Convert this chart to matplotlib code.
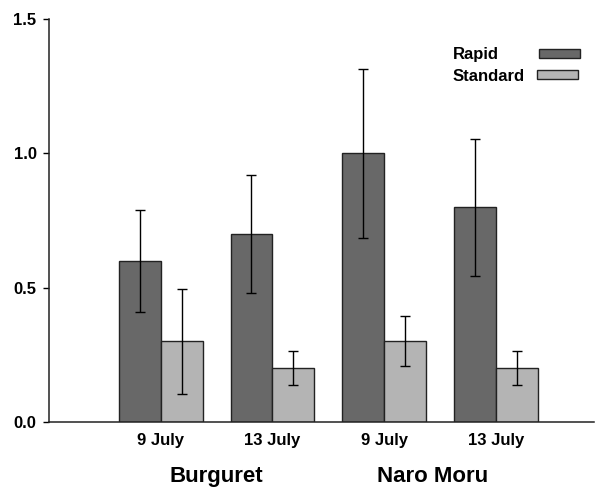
import numpy as np
import matplotlib
matplotlib.use("Agg")
import matplotlib.pyplot as plt
import matplotlib.transforms as mtransforms
from matplotlib.patches import Rectangle

plt.rcParams["font.family"] = ["Liberation Sans", "DejaVu Sans"]
plt.rcParams["font.weight"] = "bold"

# data
dates = ["9 July", "13 July", "9 July", "13 July"]
sites = ["Burguret", "Naro Moru"]
rapid = [0.60, 0.70, 1.00, 0.80]
rapid_err = [0.19, 0.22, 0.315, 0.255]
standard = [0.30, 0.20, 0.30, 0.20]
standard_err = [0.195, 0.063, 0.093, 0.063]
series = ["Rapid", "Standard"]
colors = ["#686868", "#b4b4b4"]

fig = plt.figure(figsize=(5.95, 4.87), dpi=100)
ax = fig.add_axes([0.0824, 0.1335, 0.9160, 0.8275])

x = np.arange(1, len(dates) + 1)
w = 0.375
err_kw = dict(ecolor="black", elinewidth=1.0, capsize=3.5, capthick=1.0)
ax.bar(x - w / 2, rapid, w, yerr=rapid_err, color=colors[0],
       edgecolor="#222222", linewidth=1.0, error_kw=err_kw)
ax.bar(x + w / 2, standard, w, yerr=standard_err, color=colors[1],
       edgecolor="#222222", linewidth=1.0, error_kw=err_kw)

ax.set_xlim(0, 4.88)
ax.set_ylim(0, 1.5)
ax.set_yticks([0.0, 0.5, 1.0, 1.5])
ax.set_yticklabels(["0.0", "0.5", "1.0", "1.5"])
ax.set_xticks(x)
ax.set_xticklabels(dates)
ax.tick_params(axis="x", length=0, pad=8, labelsize=12)
ax.tick_params(axis="y", length=4, width=1, pad=5, labelsize=12, direction="out")
for s in ["top", "right"]:
    ax.spines[s].set_visible(False)
for s in ["left", "bottom"]:
    ax.spines[s].set_linewidth(1.1)
    ax.spines[s].set_color("#222222")

# site names under the date labels
trans = mtransforms.blended_transform_factory(ax.transData, fig.transFigure)
ax.text(1.5, 0.021, sites[0], transform=trans, ha="center", va="center",
        fontsize=16, fontweight="bold")
ax.text(3.43, 0.021, sites[1], transform=trans, ha="center", va="center",
        fontsize=16, fontweight="bold")

# legend: labels on the left, swatches on the right
text_y = [0.8995, 0.846]
patch_x = [0.899, 0.895]
for i in range(len(series)):
    ax.text(0.741, text_y[i], series[i], transform=ax.transAxes,
            ha="left", va="baseline", fontsize=12, fontweight="bold")
    ax.add_patch(Rectangle((patch_x[i], text_y[i] + 0.004), 0.075, 0.023,
                           transform=ax.transAxes, facecolor=colors[i],
                           edgecolor="#222222", linewidth=1.0, clip_on=False))

fig.savefig("out.png", dpi=100)
